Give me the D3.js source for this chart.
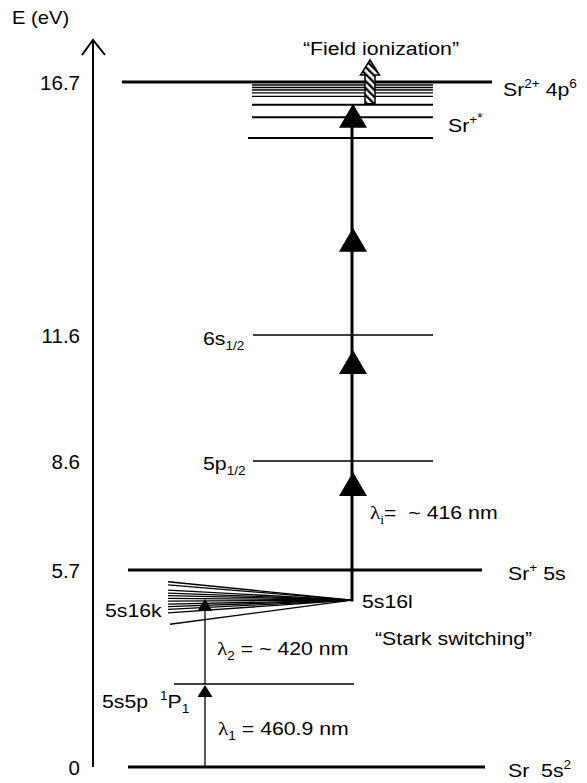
<!DOCTYPE html>
<html>
<head>
<meta charset="utf-8">
<script src="https://cdn.jsdelivr.net/npm/d3@7/dist/d3.min.js"></script>
<style>
  html, body { margin: 0; padding: 0; background: #fff; }
  svg { display: block; font-family: "Liberation Sans", Arial, Helvetica, sans-serif; }
  text { white-space: pre; fill: #000; }
</style>
</head>
<body>
<svg id="chart" width="587" height="783"></svg>
<script>
// ---------------- data ----------------
// energy ticks on the (schematic) energy axis, eV
const tickValues = [0, 5.7, 8.6, 11.6, 16.7];
const tickLabels = ["0", "5.7", "8.6", "11.6", "16.7"];
// principal levels (eV)
const levelNames    = ["Sr 5s2", "5s5p 1P1", "Sr+ 5s", "5p1/2", "6s1/2", "Sr2+ 4p6"];
const levelEnergies = [0, 2.40, 5.7, 8.6, 11.6, 16.7];
// autoionizing Sr+* Rydberg levels below the double-ionization limit (eV)
const srPlusStarEnergies = [15.57, 15.99, 16.24, 16.41, 16.48, 16.54, 16.59, 16.64];
// Stark fan 5s16k -> 5s16l : energies at the zero-field (left) end, and convergence energy
const starkFanEnergies = [5.36, 5.27, 5.12, 5.03, 4.96, 4.88, 4.80, 4.71, 4.64, 4.56, 4.46, 4.13];
const starkConvergence = 4.83;
// excitation steps (eV)
const lambda1Step = [0, 2.40];          // 460.9 nm
const lambda2Step = [2.40, 4.89];       // ~420 nm
const ionizationPath = [4.83, 16.24];   // ~416 nm multiphoton
const photonArrowTips = [8.31, 11.24, 13.76, 16.26];
const fieldIonStart = 16.26;

// ---------------- layout ----------------
const svg = d3.select("#chart");
const y = d3.scaleLinear().domain(tickValues).range([767, 570, 461, 335, 82]);

const axisX = 93;
const levelLayout = {
  "Sr 5s2":   {x1: 128, x2: 485, w: 3},
  "5s5p 1P1": {x1: 174, x2: 354, w: 1.5},
  "Sr+ 5s":   {x1: 128, x2: 482, w: 3},
  "5p1/2":    {x1: 253, x2: 433, w: 1.5},
  "6s1/2":    {x1: 253, x2: 433, w: 1.5},
  "Sr2+ 4p6": {x1: 122, x2: 492, w: 3}
};
const ionX = 352, stepX = 205, fanLeftX = 168;

// ---------------- axis ----------------
svg.append("line").attr("x1", axisX).attr("x2", axisX)
  .attr("y1", y(0)).attr("y2", 40).attr("stroke", "#000").attr("stroke-width", 2);
svg.append("path").attr("d", `M${axisX - 11},55 L${axisX},40 L${axisX + 12},55`)
  .attr("fill", "none").attr("stroke", "#000").attr("stroke-width", 2);

const axis = d3.axisLeft(y).tickValues(tickValues)
  .tickFormat((d, i) => tickLabels[i]).tickSize(0).tickPadding(13);
const ag = svg.append("g").attr("transform", `translate(${axisX},0)`).call(axis);
ag.select(".domain").remove();
ag.selectAll("text").attr("font-size", 20.5)
  .attr("font-family", "'Liberation Sans', Arial, sans-serif").attr("fill", "#000")
  .attr("dy", "0.36em");

// ---------------- levels ----------------
svg.append("g").selectAll("line").data(levelNames).join("line")
  .attr("x1", d => levelLayout[d].x1).attr("x2", d => levelLayout[d].x2)
  .attr("y1", (d, i) => y(levelEnergies[i])).attr("y2", (d, i) => y(levelEnergies[i]))
  .attr("stroke", "#000").attr("stroke-width", d => levelLayout[d].w);

svg.append("g").selectAll("line").data(srPlusStarEnergies).join("line")
  .attr("x1", (d, i) => i === 0 ? 248 : 252).attr("x2", 433)
  .attr("y1", d => y(d)).attr("y2", d => y(d))
  .attr("stroke", "#000").attr("stroke-width", (d, i) => i < 3 ? 2 : 1.4);

// Stark fan
svg.append("g").selectAll("line").data(starkFanEnergies).join("line")
  .attr("x1", (d, i) => i === starkFanEnergies.length - 1 ? 170 : fanLeftX)
  .attr("y1", d => y(d))
  .attr("x2", ionX).attr("y2", y(starkConvergence))
  .attr("stroke", "#000").attr("stroke-width", 1.3);

// ---------------- excitation arrows ----------------
function tri(cx, tipY, w, h) {
  return `M${cx},${tipY} L${cx - w / 2},${tipY + h} L${cx + w / 2},${tipY + h} Z`;
}
// lambda 1 and 2 (thin)
[lambda1Step, lambda2Step].forEach(s => {
  svg.append("line").attr("x1", stepX).attr("x2", stepX)
    .attr("y1", y(s[0])).attr("y2", y(s[1]) + 6)
    .attr("stroke", "#000").attr("stroke-width", 1.3);
  svg.append("path").attr("d", tri(stepX, y(s[1]) + 1, 15, 12)).attr("fill", "#000");
});
// ionization path (thick)
svg.append("line").attr("x1", ionX).attr("x2", ionX)
  .attr("y1", y(ionizationPath[0]) + 1.5).attr("y2", y(ionizationPath[1]) + 4)
  .attr("stroke", "#000").attr("stroke-width", 3);
svg.append("g").selectAll("path").data(photonArrowTips).join("path")
  .attr("d", d => tri(ionX + 1, y(d), 28, 24)).attr("fill", "#000");

// hatched field-ionization arrow
const defs = svg.append("defs");
const pat = defs.append("pattern").attr("id", "hatch").attr("patternUnits", "userSpaceOnUse")
  .attr("width", 5).attr("height", 5).attr("patternTransform", "rotate(-45)");
pat.append("rect").attr("width", 5).attr("height", 5).attr("fill", "#fff");
pat.append("rect").attr("width", 2.3).attr("height", 5).attr("fill", "#000");
const fx = 370, fb = y(fieldIonStart);
svg.append("path")
  .attr("d", `M${fx - 5},${fb} L${fx - 5},75 L${fx - 9.5},75 L${fx},60 L${fx + 9.5},75 L${fx + 5},75 L${fx + 5},${fb} Z`)
  .attr("fill", "url(#hatch)").attr("stroke", "#000").attr("stroke-width", 1.5);

// ---------------- labels ----------------
function label(x, yy, parts, opt = {}) {
  const size = opt.size || 19, sx = opt.sx || 1.12;
  const t = svg.append("text")
    .attr("transform", `translate(${x},${yy}) scale(${sx},1)`)
    .attr("font-size", size).attr("text-anchor", opt.anchor || "start");
  let cur = 0;
  parts.forEach(p => {
    const [txt, kind, fam] = typeof p === "string" ? [p] : p;
    const off = kind === "sup" ? -size * 0.4 : kind === "sup2" ? -size * 0.55 :
                kind === "sub" ? size * 0.28 : 0;
    const fs = kind ? size * 0.64 : size;
    const ts = t.append("tspan").attr("dy", off - cur).attr("font-size", fs).text(txt);
    if (fam) ts.attr("font-family", fam);
    cur = off;
  });
  return t;
}
const serif = "'Liberation Serif', 'Times New Roman', serif";

label(12, 24, ["E (eV)"], {size: 18});
label(381, 55, ["\u201CField ionization\u201D"], {anchor: "middle"});
label(503, 96, ["Sr", ["2+", "sup"], " 4p", ["6", "sup"]]);
label(448, 132, ["Sr", ["+", "sup"], ["*", "sup2"]]);
label(203, 345, ["6s", ["1/2", "sub"]]);
label(203, 470, ["5p", ["1/2", "sub"]]);
label(370, 519, [["\u03BB", null, serif], ["i", "sub", serif], "=  ~ 416 nm"]);
label(508, 580, ["Sr", ["+", "sup"], " 5s"]);
label(362, 608, ["5s16l"]);
label(105, 617, ["5s16k"]);
label(375, 645, ["\u201CStark switching\u201D"]);
label(217, 655, [["\u03BB", null, serif], ["2", "sub"], " = ~ 420 nm"]);
label(102, 708, ["5s5p  ", ["1", "sup"], "P", ["1", "sub"]]);
label(218, 735, [["\u03BB", null, serif], ["1", "sub"], " = 460.9 nm"]);
label(508, 777, ["Sr  5s", ["2", "sup"]]);
</script>
</body>
</html>
